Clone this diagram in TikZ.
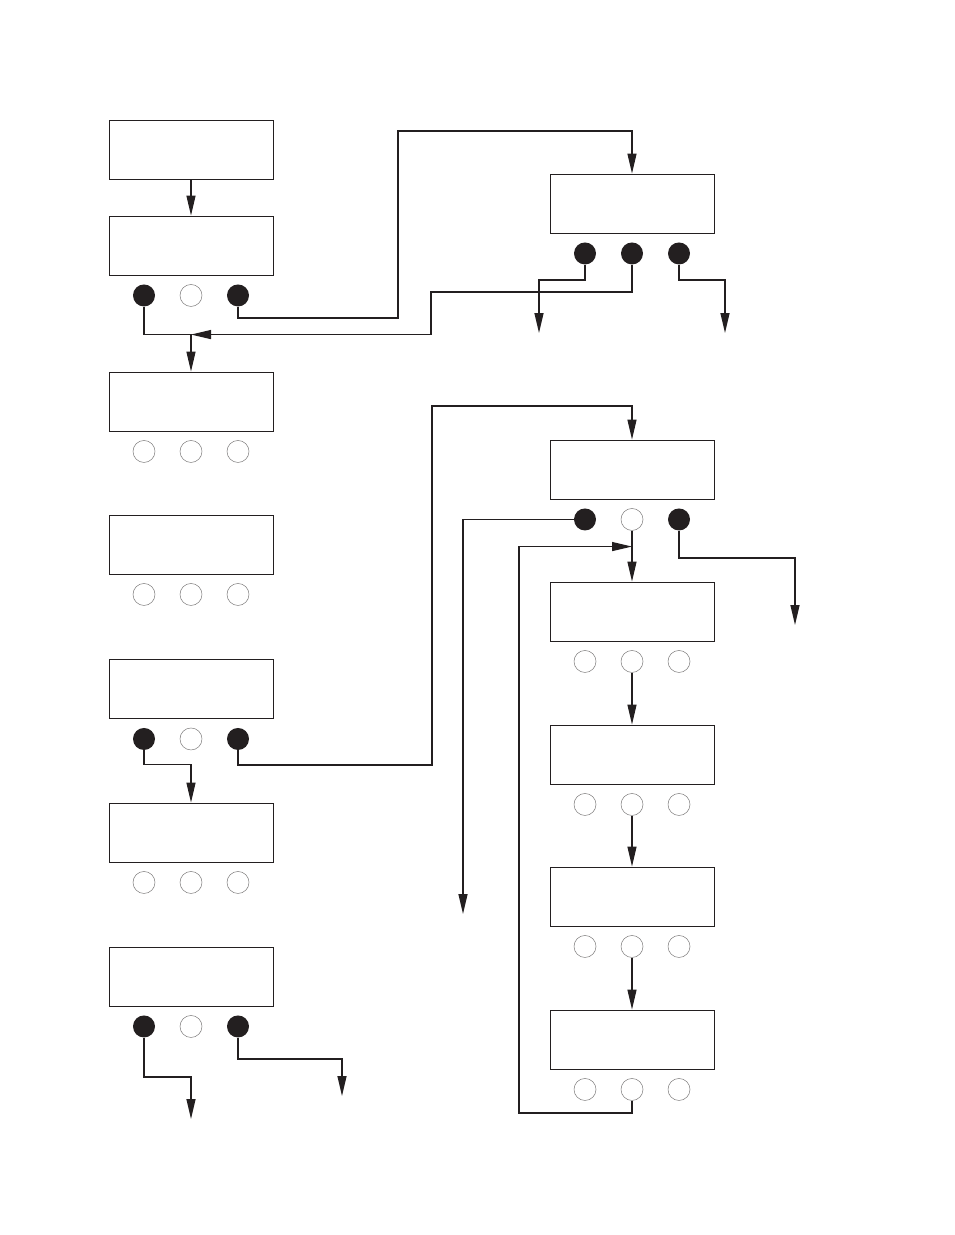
\documentclass[tikz,border=0pt]{standalone}
\usepackage{tikz}
\usetikzlibrary{arrows.meta}
\usepackage{xcolor}
\definecolor{inkdark}{RGB}{35, 31, 32}

\newcommand{\keyrow}[4]{%
  \node[#2] (#1a) at ([xshift=-47pt, yshift=-20pt]#1.south) {};
  \node[#3] (#1b) at ([yshift=-20pt]#1.south) {};
  \node[#4] (#1c) at ([xshift=47pt, yshift=-20pt]#1.south) {};
}

\begin{document}
\begin{tikzpicture}[x=1pt, y=-1pt, >={Triangle[length=20pt, width=9pt]},
    screen/.style={draw=inkdark, line width=0.9pt, minimum width=164pt, minimum height=59pt, inner sep=0pt},
    keyon/.style={circle, fill=inkdark, minimum size=22pt, inner sep=0pt},
    keyoff/.style={circle, draw=inkdark!60, line width=0.5pt, minimum size=22pt, inner sep=0pt},
    link/.style={draw=inkdark, line width=1.3pt}]
      \useasboundingbox (0,0) rectangle (954,1235);
      % left column
      \node[screen] (l1) at (191, 149.5) {};
      \node[screen] (l2) at (191, 245.5) {};
      \node[screen] (l3) at (191, 401.5) {};
      \node[screen] (l4) at (191, 544.5) {};
      \node[screen] (l5) at (191, 689) {};
      \node[screen] (l6) at (191, 832.5) {};
      \node[screen] (l7) at (191, 976.5) {};
      % right column
      \node[screen] (r1) at (632, 203.5) {};
      \node[screen] (r2) at (632, 469.5) {};
      \node[screen] (r3) at (632, 611.5) {};
      \node[screen] (r4) at (632, 754.5) {};
      \node[screen] (r5) at (632, 896.5) {};
      \node[screen] (r6) at (632, 1039.5) {};
      \keyrow{l2}{keyon}{keyoff}{keyon}
      \keyrow{l3}{keyoff}{keyoff}{keyoff}
      \keyrow{l4}{keyoff}{keyoff}{keyoff}
      \keyrow{l5}{keyon}{keyoff}{keyon}
      \keyrow{l6}{keyoff}{keyoff}{keyoff}
      \keyrow{l7}{keyon}{keyoff}{keyon}
      \keyrow{r1}{keyon}{keyon}{keyon}
      \keyrow{r2}{keyon}{keyoff}{keyon}
      \keyrow{r3}{keyoff}{keyoff}{keyoff}
      \keyrow{r4}{keyoff}{keyoff}{keyoff}
      \keyrow{r5}{keyoff}{keyoff}{keyoff}
      \keyrow{r6}{keyoff}{keyoff}{keyoff}
      \coordinate (j1) at ([yshift=37pt]l3.north);
      \coordinate (j2) at ([yshift=38pt]l6.north);
      \coordinate (j3) at ([yshift=35pt]r3.north);
      \coordinate (r1out1) at (539, 333);
      \coordinate (r1out2) at (725, 333);
      \coordinate (r2out1) at (463, 914);
      \coordinate (r2out2) at (795, 625);
      \coordinate (l7out1) at (191, 1119);
      \coordinate (l7out2) at (342, 1096);
      % connectors
      \draw[link, ->] (l1) -- (l2);
      \draw[link, ->] (l2c.south) |- (398, 318) -- (398, 131) -| (r1.north);
      \draw[link, ->] (l2a.south) |- (j1) -- (l3.north);
      \draw[link, ->] (r1b.south) |- (431, 292) |- (j1);
      \draw[link, ->] (r1a.south) |- (539, 280) -- (r1out1);
      \draw[link, ->] (r1c.south) |- (725, 280) -- (r1out2);
      \draw[link, ->] (l5a.south) |- (j2) -- (l6.north);
      \draw[link, ->] (l5c.south) |- (432, 765) -- (432, 406) -| (r2.north);
      \draw[link, ->] (r2a.west) -| (r2out1);
      \draw[link, ->] (r2c.south) |- (795, 558) -- (r2out2);
      \draw[link, ->] (r2b.south) -- (r3.north);
      \draw[link, ->] (r6b.south) |- (519, 1113) |- (j3);
      \draw[link, ->] (r3b.south) -- (r4.north);
      \draw[link, ->] (r4b.south) -- (r5.north);
      \draw[link, ->] (r5b.south) -- (r6.north);
      \draw[link, ->] (l7a.south) |- (191, 1077) -- (l7out1);
      \draw[link, ->] (l7c.south) |- (342, 1059) -- (l7out2);
    \end{tikzpicture}
\end{document}
